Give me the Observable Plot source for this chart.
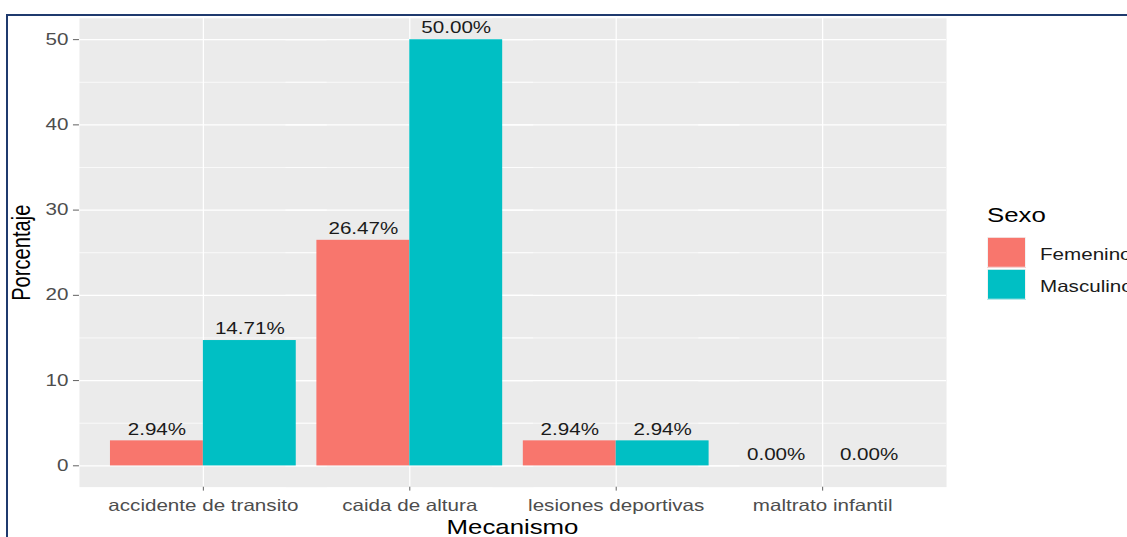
<!DOCTYPE html>
<html><head><meta charset="utf-8">
<script src="https://cdn.jsdelivr.net/npm/d3@7"></script>
<script src="https://cdn.jsdelivr.net/npm/@observablehq/plot@0.6"></script>
<style>
html,body{margin:0;padding:0;background:#fff;overflow:hidden;width:1127px;height:537px;}
#border{position:absolute;left:6px;top:14px;width:1300px;height:700px;border-left:2px solid #1f3a6e;border-top:2px solid #1f3a6e;}
#stage{position:absolute;left:0;top:0;width:1127px;height:688px;transform:scale(1,0.78);transform-origin:0 0;font-family:"Liberation Sans",Arial,sans-serif;}
#stage svg{position:absolute;left:0;top:0;}
.abs{position:absolute;white-space:nowrap;line-height:1;}
.key{position:absolute;width:37px;height:37px;border:1px solid #F2F2F2;}
</style>
</head><body>
<div id="border"></div>
<div id="stage"></div>
<script>
const categories = ["accidente de transito", "caida de altura", "lesiones deportivas", "maltrato infantil"];
const sexes = ["Femenino", "Masculino"];
const femenino = [2.94, 26.47, 2.94, 0.00];
const masculino = [14.71, 50.00, 2.94, 0.00];
const colors = ["#F8766D", "#00BFC4"];
const yTicks = [0, 10, 20, 30, 40, 50];
const yMinor = [5, 15, 25, 35, 45];
const xTitle = "Mecanismo";
const yTitle = "Porcentaje";
const legendTitle = "Sexo";

const data = categories.flatMap((c, i) => [
  {mecanismo: c, sexo: sexes[0], pct: femenino[i]},
  {mecanismo: c, sexo: sexes[1], pct: masculino[i]}
]);

// extend the per-facet background marks across the gaps between facets
const ext = {insetLeft: -31, insetRight: -31};

const chart = Plot.plot({
  width: 1127, height: 688,
  marginLeft: 79, marginRight: 181, marginTop: 23, marginBottom: 64,
  style: {fontFamily: "Liberation Sans, Arial, sans-serif", fontSize: "20.6px", background: "transparent", overflow: "visible"},
  fx: {domain: categories, paddingInner: 0.1, paddingOuter: 0.15, round: false, label: null},
  x: {domain: sexes, padding: 0, round: false, axis: null},
  y: {domain: [-2.5, 52.5], label: null},
  color: {domain: sexes, range: colors},
  marks: [
    Plot.frame({fill: "#EBEBEB", stroke: null, ...ext}),
    Plot.ruleY(yMinor, {stroke: "white", strokeWidth: 0.8, ...ext}),
    Plot.ruleY(yTicks, {stroke: "white", strokeWidth: 1.5, ...ext}),
    Plot.gridFx({stroke: "white", strokeOpacity: 1, strokeWidth: 1.2}),
    Plot.axisY({ticks: yTicks, tickSize: 6, tickPadding: 5, dx: -31, color: "#4D4D4D", label: null}),
    Plot.axisFx({anchor: "bottom", tickSize: 5, tickPadding: 11, color: "#4D4D4D", label: null}),
    Plot.barY(data, {fx: "mecanismo", x: "sexo", y: "pct", fill: "sexo"}),
    Plot.text(data, {fx: "mecanismo", x: "sexo", y: "pct", text: d => d.pct.toFixed(2) + "%", lineAnchor: "bottom", dy: -8, fill: "#1A1A1A"})
  ]
});
const stage = document.getElementById("stage");
stage.appendChild(chart);

function addText(txt, style) {
  const d = document.createElement("div");
  d.className = "abs";
  d.textContent = txt;
  Object.assign(d.style, style);
  stage.appendChild(d);
  return d;
}
// axis titles
addText(xTitle, {left: "512.5px", top: "664px", fontSize: "25.8px", color: "#000", transform: "translateX(-50%)"});
addText(yTitle, {left: "22px", top: "324px", fontSize: "25.8px", color: "#000", transform: "translate(-50%,-50%) rotate(-90deg)"});
// legend
addText(legendTitle, {left: "987px", top: "263px", fontSize: "25.8px", color: "#000"});
sexes.forEach((s, i) => {
  const k = document.createElement("div");
  k.className = "key";
  k.style.left = "986.5px";
  k.style.top = (303.5 + i * 41) + "px";
  k.style.background = colors[i];
  stage.appendChild(k);
  addText(s, {left: "1040px", top: (315.5 + i * 41) + "px", fontSize: "20.6px", color: "#1A1A1A"});
});
</script>
</body></html>
